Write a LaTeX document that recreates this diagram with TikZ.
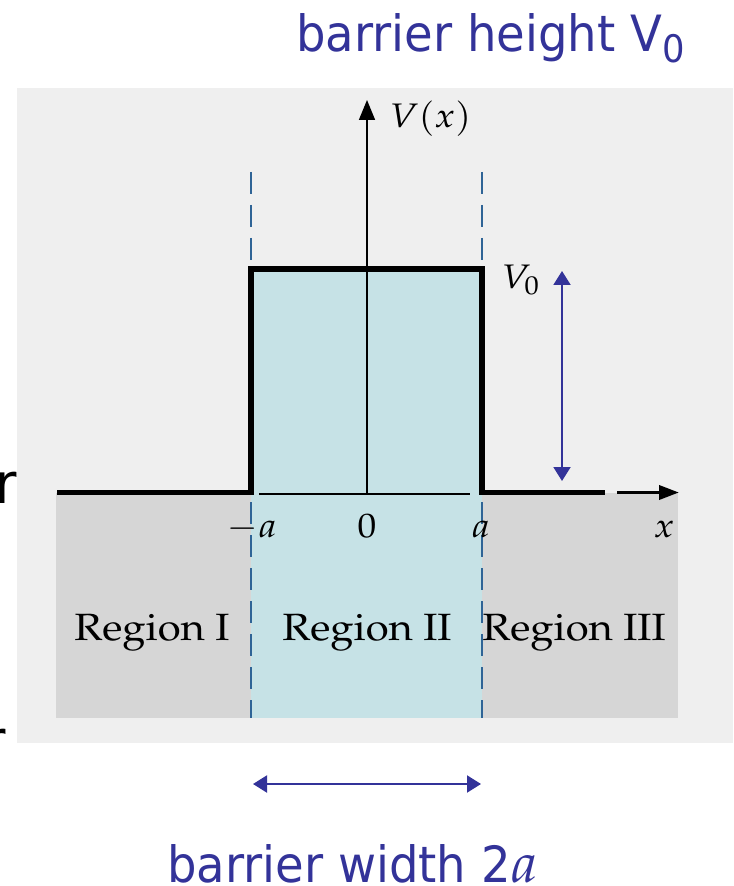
\documentclass[tikz,border=0pt]{standalone}
\usepackage{mathpazo}
\usepackage[no-math]{fontspec}
\newfontfamily\slidefont[FakeStretch=0.93]{DejaVu Sans}
\usetikzlibrary{arrows.meta}
\definecolor{panel}{HTML}{EFEFEF}
\definecolor{sand}{HTML}{D6D6D6}
\definecolor{well}{HTML}{C6E2E6}
\definecolor{guide}{HTML}{2F6496}
\definecolor{ink}{HTML}{333399}
\begin{document}
\begin{tikzpicture}[x=0.5pt,y=0.5pt,
  wall/.style={line width=2.7pt,line join=miter},
  guide/.style={draw=guide,line width=1pt,dash pattern=on 11pt off 5.5pt},
  axis/.style={line width=0.8pt},
  dim/.style={ink,line width=1pt,{Triangle[length=7pt,width=8.5pt]}-{Triangle[length=7pt,width=8.5pt]}},
  lbl/.style={font=\fontsize{17}{20}\selectfont,inner sep=0pt,xscale=1.1},
  region/.style={font=\fontsize{19}{22}\usefont{OT1}{ppl}{m}{n},inner sep=0pt,xscale=1.1},
  slide/.style={ink,font=\fontsize{25}{30}\slidefont,inner sep=0pt}]
\useasboundingbox (0,0) rectangle (733,-886);

% photo of the barrier
\fill[panel] (17,-88) rectangle (733,-743);
\fill[sand] (56,-493) rectangle (678,-718);
\fill[well] (251,-269) rectangle (482,-718);

\coordinate (gl1) at (251,-172);
\coordinate (gl2) at (251,-718);
\coordinate (gr1) at (482,-172);
\coordinate (gr2) at (482,-718);
\draw[guide] (gl1) -- (gl2);
\draw[guide] (gr1) -- (gr2);

\coordinate (L)  at (57,-492.5);
\coordinate (A)  at (251,-492.5);
\coordinate (B)  at (251,-269);
\coordinate (C)  at (482,-269);
\coordinate (D)  at (482,-492.5);
\coordinate (R)  at (605,-492.5);
\draw[wall] (L) -- (A) -- (B) -- (C) -- (D) -- (R);

\coordinate (in1) at (259,-494);
\coordinate (in2) at (470,-494);
\coordinate (O)   at (367,-494);
\coordinate (top) at (367,-100);
\coordinate (xs)  at (617,-492.5);
\coordinate (xe)  at (679,-492.5);
\draw[axis] (in1) -- (in2);
\draw[axis,-{Triangle[length=10pt,width=8pt]}] (O) -- (top);
\draw[line width=1.8pt,-{Triangle[length=10pt,width=7pt]}] (xs) -- (xe);

\node[lbl,anchor=base west] (Vx) at (389,-128) {$V(x)$};
\node[lbl,anchor=base west] (V0) at (501,-289) {$V_0$};
\node[lbl,anchor=base] (ma) at (252,-537) {$-a$};
\node[lbl,anchor=base] (zero) at (367,-537) {$0$};
\node[lbl,anchor=base] (pa) at (481,-537) {$a$};
\node[lbl,anchor=base] (xl) at (664,-537) {$x$};

\node[region,anchor=base] (r1) at (152,-640) {Region I};
\node[region,anchor=base] (r2) at (367,-640) {Region II};
\node[region,anchor=base] (r3) at (574,-640) {Region III};

% slide annotations
\coordinate (h1) at (562,-271);
\coordinate (h2) at (562,-481);
\draw[dim] (h1) -- (h2);
\coordinate (w1) at (253,-784);
\coordinate (w2) at (481,-784);
\draw[dim] (w1) -- (w2);

\node[slide,anchor=base west] (height) at (296,-52)
  {barrier height V\raisebox{-5.5pt}{\fontsize{19}{19}\selectfont 0}};
\node[slide,anchor=base west] (width) at (167,-882)
  {barrier width 2{\fontsize{28}{30}\selectfont$a$}};

\node[font=\fontsize{28}{30}\slidefont,inner sep=0pt,anchor=base east] (cut1) at (17,-503) {r};
\node[font=\fontsize{28}{30}\slidefont,inner sep=0pt,anchor=base east] (cut2) at (6,-760) {r};
\end{tikzpicture}
\end{document}
